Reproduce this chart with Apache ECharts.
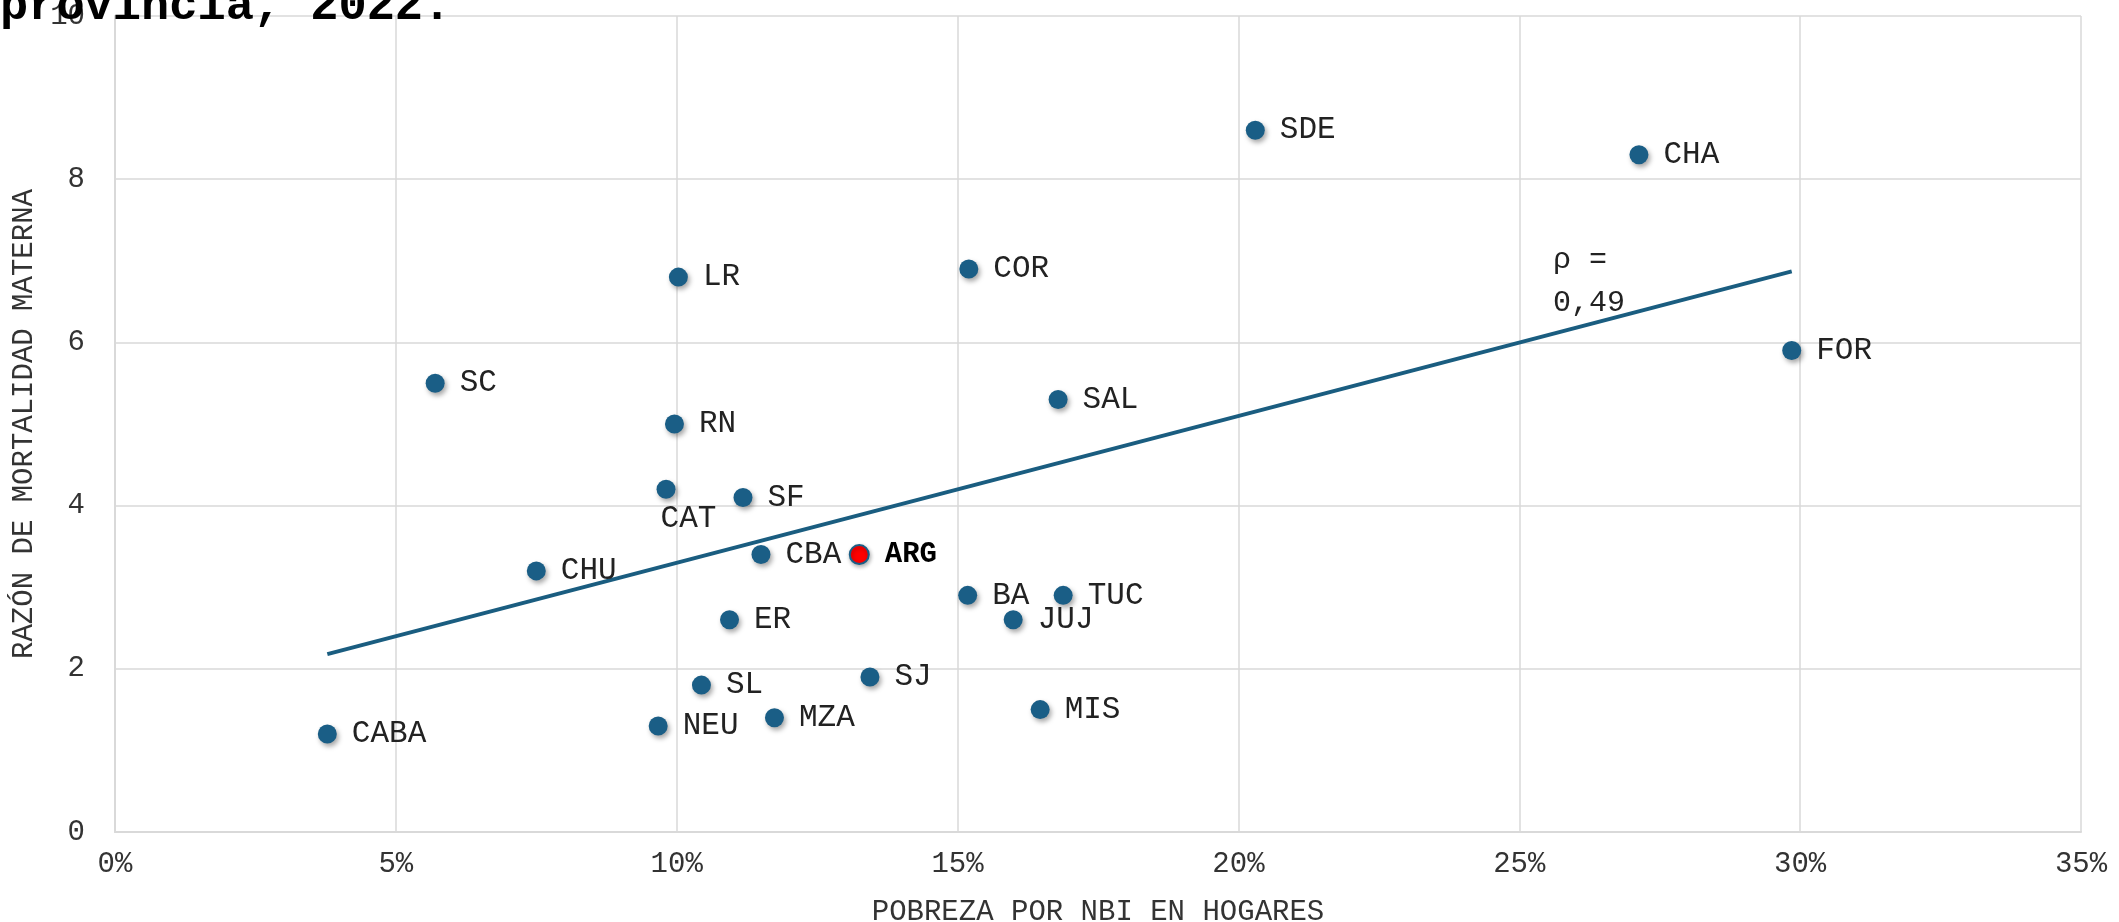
<!DOCTYPE html>
<html>
<head>
<meta charset="utf-8">
<script src="https://cdn.jsdelivr.net/npm/echarts@6/dist/echarts.min.js"></script>
<style>
html,body{margin:0;padding:0;background:#fff;}
#chart{width:2119px;height:922px;}
</style>
</head>
<body>
<div id="chart"></div>
<script>
// Data
const provinces = ['CABA','SC','CHU','CAT','RN','LR','NEU','SL','ER','SF','CBA','MZA','SJ','BA','COR','JUJ','MIS','SAL','TUC','SDE','CHA','FOR'];
const nbiPct   = [3.78, 5.70, 7.50, 9.81, 9.96, 10.03, 9.67, 10.44, 10.94, 11.18, 11.50, 11.74, 13.44, 15.18, 15.20, 15.99, 16.47, 16.79, 16.88, 20.30, 27.13, 29.85];
const rmm      = [1.2, 5.5, 3.2, 4.2, 5.0, 6.8, 1.3, 1.8, 2.6, 4.1, 3.4, 1.4, 1.9, 2.9, 6.9, 2.6, 1.5, 5.3, 2.9, 8.6, 8.3, 5.9];
const argPoint = {name: 'ARG', nbi: 13.25, rmm: 3.4};
const trendX   = [3.78, 29.85];
const trendY   = [2.18, 6.87];
const xTicks   = {min: 0, max: 35, interval: 5};
const yTicks   = {min: 0, max: 10, interval: 2};
const xAxisName = 'POBREZA POR NBI EN HOGARES';
const yAxisName = 'RAZÓN DE MORTALIDAD MATERNA';
const titleText = 'provincia, 2022.';
const rhoText   = 'ρ =\n0,49';

const FONT = "'Liberation Mono', 'DejaVu Sans Mono', monospace";
const dotColor = '#1a5e86';
const belowLabel = {'CAT': true};

const scatterData = provinces.map((p, i) => {
  const d = {name: p, value: [nbiPct[i], rmm[i]]};
  if (belowLabel[p]) {
    d.label = {position: [4, 39], align: 'left', verticalAlign: 'middle'};
  }
  return d;
});

const chart = echarts.init(document.getElementById('chart'), null, {renderer: 'canvas'});
chart.setOption({
  animation: false,
  backgroundColor: '#ffffff',
  grid: {left: 115, right: 38, top: 16, bottom: 90, containLabel: false, outerBoundsMode: 'none'},
  graphic: [
    {type: 'text', left: 0, top: -16, z: 100,
     style: {text: titleText, font: "bold 47px " + FONT, fill: '#000'}},
    {type: 'text', left: 1553, top: 239, z: 100,
     style: {text: rhoText, font: "30px " + FONT, fill: '#222', lineHeight: 43}}
  ],
  xAxis: {
    type: 'value', min: xTicks.min, max: xTicks.max, interval: xTicks.interval,
    name: xAxisName, nameLocation: 'middle', nameGap: 66,
    nameTextStyle: {fontFamily: FONT, fontSize: 29, color: '#333'},
    axisLine: {show: true, lineStyle: {color: '#d9d9d9', width: 2}},
    axisTick: {show: false},
    splitLine: {show: true, lineStyle: {color: '#d9d9d9', width: 1.5}},
    axisLabel: {formatter: '{value}%', fontFamily: FONT, fontSize: 29, color: '#333', margin: 18}
  },
  yAxis: {
    type: 'value', min: yTicks.min, max: yTicks.max, interval: yTicks.interval,
    name: yAxisName, nameLocation: 'middle', nameGap: 75,
    nameTextStyle: {fontFamily: FONT, fontSize: 29, color: '#333'},
    axisLine: {show: true, lineStyle: {color: '#d9d9d9', width: 2}},
    axisTick: {show: false},
    splitLine: {show: true, lineStyle: {color: '#d9d9d9', width: 1.5}},
    axisLabel: {fontFamily: FONT, fontSize: 29, color: '#333', margin: 30}
  },
  series: [
    {
      type: 'line', silent: true, symbol: 'none', z: 2,
      data: trendX.map((x, i) => [x, trendY[i]]),
      lineStyle: {color: '#1a5d80', width: 4}
    },
    {
      type: 'scatter', z: 3, symbolSize: 19,
      data: scatterData,
      itemStyle: {color: dotColor, opacity: 1, shadowBlur: 5, shadowOffsetX: 2, shadowOffsetY: 3, shadowColor: 'rgba(0,0,0,0.35)'},
      label: {show: true, position: 'right', distance: 15, formatter: '{b}',
              fontFamily: FONT, fontSize: 31, color: '#222'}
    },
    {
      type: 'scatter', z: 4, symbolSize: 19,
      data: [{name: argPoint.name, value: [argPoint.nbi, argPoint.rmm]}],
      itemStyle: {color: '#ff0000', opacity: 1, borderColor: dotColor, borderWidth: 2,
                  shadowBlur: 4, shadowOffsetX: 1, shadowOffsetY: 2, shadowColor: 'rgba(0,0,0,0.3)'},
      label: {show: true, position: 'right', distance: 15, formatter: '{b}',
              fontFamily: FONT, fontSize: 29, fontWeight: 'bold', color: '#000'}
    }
  ]
});
</script>
</body>
</html>
